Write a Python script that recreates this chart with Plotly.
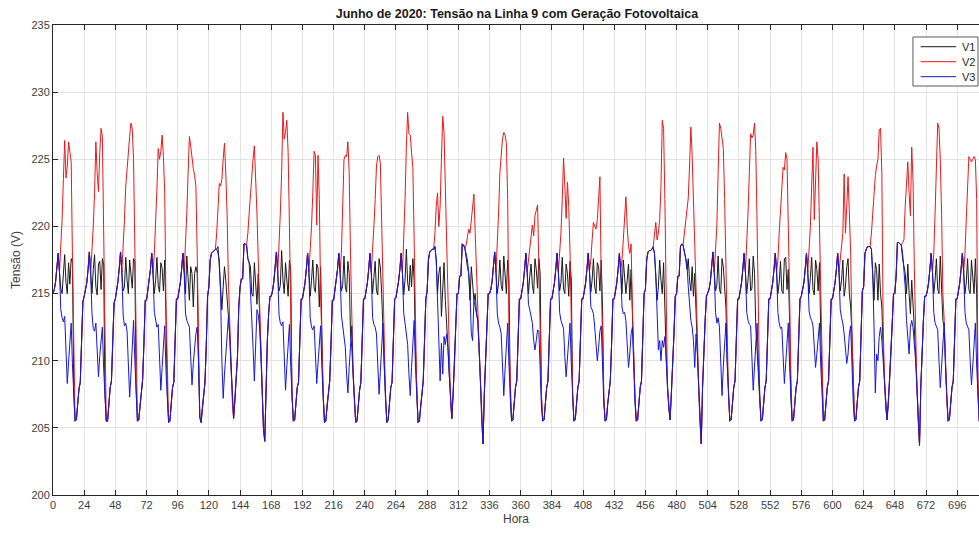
import plotly.graph_objects as go

# Tensão de fase (V) lida hora a hora, um dia (24 h) por linha - junho de 2020
V3_DIAS = [
    [215.0, 215.3, 215.9, 216.8, 218.0, 216.6, 213.8, 213.2, 212.9, 213.3, 210.6, 208.3, 209.9, 211.6, 212.8, 209.6, 206.9, 205.5, 205.6, 206.8, 207.9, 208.4, 211.2, 214.4],
    [214.8, 215.2, 215.8, 216.8, 218.1, 216.5, 213.5, 212.4, 212.2, 212.8, 210.5, 208.8, 210.4, 211.8, 212.5, 209.4, 206.8, 205.5, 205.5, 206.7, 208.0, 208.5, 211.0, 214.3],
    [214.6, 215.2, 215.9, 216.9, 218.1, 216.6, 213.4, 212.6, 212.8, 212.2, 209.5, 207.3, 209.0, 211.5, 213.0, 210.0, 207.0, 205.5, 205.6, 206.8, 207.8, 208.6, 211.3, 214.5],
    [214.5, 215.2, 215.8, 216.8, 218.0, 216.5, 213.6, 212.9, 212.5, 212.7, 210.0, 207.8, 209.5, 211.4, 212.6, 209.2, 206.6, 205.4, 205.5, 206.8, 208.0, 208.4, 211.4, 214.6],
    [214.6, 215.2, 215.8, 216.8, 218.0, 216.6, 213.5, 213.0, 212.8, 212.5, 210.3, 208.2, 209.8, 211.0, 212.0, 212.5, 210.0, 205.8, 205.4, 206.6, 207.8, 208.4, 211.2, 214.8],
    [215.5, 217.5, 218.0, 218.1, 218.2, 218.3, 218.3, 218.0, 217.5, 215.0, 210.0, 207.2, 209.0, 210.5, 211.5, 213.2, 212.0, 209.5, 207.0, 205.7, 207.0, 208.5, 210.3, 214.0],
    [215.5, 216.1, 216.1, 218.7, 218.7, 218.6, 217.6, 217.3, 215.5, 213.5, 211.0, 208.5, 211.0, 213.8, 213.4, 212.5, 210.5, 208.0, 205.0, 204.0, 208.5, 211.5, 213.5, 214.8],
    [214.8, 215.2, 215.9, 216.8, 218.1, 216.5, 213.4, 212.8, 212.6, 212.9, 210.0, 207.8, 209.6, 211.5, 212.7, 209.5, 206.8, 205.5, 205.6, 206.8, 208.0, 208.4, 211.3, 214.6],
    [214.6, 215.2, 215.8, 216.8, 218.0, 216.6, 213.2, 212.5, 212.3, 212.6, 210.3, 208.3, 209.8, 211.6, 212.6, 209.4, 206.8, 205.4, 205.5, 206.7, 207.9, 208.5, 211.2, 214.5],
    [214.5, 215.2, 215.8, 216.8, 218.0, 216.6, 213.4, 212.5, 211.8, 211.0, 209.0, 207.6, 209.5, 211.2, 212.6, 209.2, 206.6, 205.4, 205.5, 206.7, 207.8, 208.4, 211.3, 214.6],
    [214.6, 215.2, 215.8, 216.8, 218.0, 216.6, 213.2, 212.7, 212.5, 212.0, 209.3, 207.5, 209.2, 211.5, 212.8, 209.5, 206.8, 205.4, 205.6, 206.8, 208.0, 208.4, 211.3, 214.6],
    [214.7, 215.2, 215.9, 216.8, 218.0, 216.5, 213.5, 212.8, 212.0, 211.2, 209.0, 207.4, 209.5, 211.8, 213.0, 209.6, 206.8, 205.4, 205.5, 206.7, 207.9, 208.5, 211.5, 214.6],
    [215.2, 217.5, 218.1, 218.2, 218.3, 218.3, 218.5, 217.5, 214.5, 211.0, 208.5, 211.3, 209.0, 211.8, 211.2, 212.0, 211.0, 209.0, 207.0, 205.7, 207.5, 209.5, 212.5, 215.0],
    [215.0, 216.3, 216.3, 218.7, 218.6, 218.4, 218.0, 217.5, 216.5, 215.0, 212.0, 211.5, 214.5, 214.0, 213.5, 213.0, 211.0, 208.5, 205.5, 203.8, 207.5, 210.5, 213.0, 215.0],
    [215.0, 215.3, 215.9, 216.9, 218.1, 216.6, 213.5, 212.8, 212.5, 212.0, 209.5, 207.4, 209.4, 211.5, 212.8, 209.6, 206.8, 205.5, 205.6, 206.8, 208.0, 208.5, 211.3, 214.6],
    [214.6, 215.2, 215.8, 216.8, 218.0, 216.6, 214.2, 213.8, 213.2, 212.8, 211.5, 210.8, 211.5, 212.3, 212.2, 209.0, 206.5, 205.5, 205.6, 206.8, 208.0, 208.5, 211.3, 214.6],
    [214.6, 215.2, 215.8, 216.8, 218.0, 216.6, 213.6, 213.0, 212.7, 212.4, 210.3, 208.8, 210.2, 211.8, 212.8, 209.6, 206.8, 205.5, 205.6, 206.8, 208.0, 208.5, 211.3, 214.6],
    [214.6, 215.2, 215.8, 216.8, 218.0, 216.6, 214.0, 213.8, 213.5, 212.5, 210.8, 210.0, 211.0, 212.2, 212.6, 209.5, 206.8, 205.5, 205.6, 206.8, 208.0, 208.5, 211.3, 214.6],
    [214.6, 215.2, 215.8, 216.8, 218.0, 216.6, 214.0, 213.5, 213.6, 213.0, 211.0, 209.5, 210.5, 212.0, 212.5, 209.5, 206.8, 205.5, 205.6, 206.8, 208.0, 208.5, 211.3, 215.0],
    [215.3, 217.5, 218.1, 218.2, 218.2, 218.3, 218.5, 218.0, 216.5, 213.5, 210.8, 211.5, 210.0, 211.5, 211.0, 211.8, 210.0, 208.0, 206.5, 205.6, 207.5, 209.5, 212.0, 214.8],
    [215.0, 216.3, 216.3, 218.5, 218.7, 218.6, 218.2, 217.6, 217.2, 215.5, 214.0, 213.0, 212.5, 211.5, 209.5, 212.0, 210.5, 208.0, 205.5, 203.8, 208.0, 211.0, 213.0, 214.8],
    [215.0, 215.3, 215.9, 216.9, 218.1, 216.6, 213.6, 212.8, 213.2, 212.5, 209.5, 207.4, 209.6, 211.6, 212.8, 209.6, 206.8, 205.5, 205.6, 206.8, 208.0, 208.5, 211.3, 214.6],
    [214.6, 215.2, 215.8, 216.8, 218.0, 216.6, 213.6, 213.0, 212.7, 212.6, 210.0, 207.8, 209.6, 211.6, 212.8, 209.6, 206.8, 205.5, 205.6, 206.8, 208.0, 208.5, 211.3, 214.6],
    [214.6, 215.2, 215.8, 216.8, 218.0, 216.6, 213.6, 212.8, 212.4, 212.5, 210.3, 208.3, 209.8, 211.5, 212.8, 209.6, 206.8, 205.5, 205.6, 206.8, 208.0, 208.5, 211.3, 214.6],
    [214.8, 215.2, 215.8, 216.8, 218.0, 216.6, 213.7, 213.2, 213.0, 212.6, 211.0, 209.5, 210.5, 212.0, 212.8, 209.6, 206.8, 205.5, 205.6, 206.8, 208.0, 208.5, 211.3, 214.6],
    [214.6, 215.2, 215.8, 216.8, 218.0, 216.6, 213.8, 213.2, 212.8, 212.0, 210.5, 209.8, 210.5, 212.0, 212.6, 209.6, 206.8, 205.5, 205.6, 206.8, 208.0, 208.5, 211.3, 215.2],
    [215.5, 218.0, 218.3, 218.5, 218.5, 218.5, 218.3, 216.5, 212.5, 207.6, 210.5, 210.0, 211.8, 212.5, 211.5, 210.0, 208.0, 206.5, 205.6, 206.8, 208.5, 210.5, 212.8, 215.0],
    [215.0, 216.3, 218.8, 218.8, 218.7, 218.6, 218.0, 217.0, 215.5, 213.0, 212.0, 210.5, 212.5, 213.0, 212.5, 211.5, 210.0, 208.0, 205.5, 203.7, 208.0, 211.0, 213.0, 214.8],
    [214.8, 215.2, 215.8, 216.8, 218.0, 216.6, 213.6, 212.8, 212.5, 212.3, 210.0, 208.0, 209.6, 211.6, 212.8, 209.6, 206.8, 205.5, 205.6, 206.8, 208.0, 208.5, 211.3, 214.6],
    [214.6, 215.2, 215.8, 216.8, 218.0, 216.6, 213.6, 212.8, 212.5, 212.3, 210.0, 208.2, 209.6, 211.6, 212.8, 209.6, 206.8, 205.5, 205.6, 206.8, 208.0, 208.5, 211.3, 214.6],
]

# Das 5h às 16h as fases se separam; fora dessa janela V1 e V2 seguem V3
V2_DIURNO = [
    [216.6, 218.5, 220.5, 223.5, 226.4, 223.6, 224.5, 226.3, 225.3, 224.8, 217.5, 209.5],
    [216.5, 218.0, 220.0, 222.5, 226.3, 224.0, 222.6, 225.5, 227.3, 226.7, 218.0, 210.0],
    [216.6, 218.2, 220.5, 223.0, 224.5, 226.0, 226.7, 227.7, 227.3, 225.0, 218.0, 210.0],
    [216.5, 218.0, 220.0, 222.8, 225.8, 225.0, 225.6, 226.8, 225.2, 222.5, 214.0, 208.5],
    [216.6, 218.5, 221.0, 224.0, 226.7, 226.0, 225.0, 224.3, 223.8, 223.0, 218.0, 213.0],
    [218.3, 219.5, 222.0, 223.2, 223.0, 223.5, 225.0, 226.2, 224.0, 221.0, 216.0, 213.0],
    [218.6, 219.5, 221.0, 222.5, 224.0, 225.0, 226.0, 224.0, 221.0, 217.5, 214.0, 211.0],
    [216.5, 218.5, 221.0, 224.0, 228.5, 226.5, 227.0, 227.9, 225.5, 220.0, 212.0, 207.5],
    [216.6, 218.0, 220.0, 222.5, 225.6, 225.3, 220.1, 225.3, 222.0, 215.0, 210.0, 207.5],
    [216.6, 218.0, 221.0, 225.0, 225.3, 225.2, 226.3, 224.0, 218.0, 212.0, 209.0, 207.0],
    [216.6, 218.0, 220.0, 222.0, 224.5, 225.2, 225.3, 224.7, 220.0, 214.0, 209.5, 207.2],
    [216.5, 219.0, 222.0, 226.0, 228.5, 226.9, 226.8, 225.5, 224.4, 219.0, 212.0, 207.5],
    [218.3, 219.5, 221.5, 222.5, 220.0, 221.5, 225.0, 228.2, 227.0, 223.0, 217.0, 213.0],
    [218.4, 218.6, 219.3, 219.8, 219.5, 220.5, 221.0, 222.4, 219.5, 216.0, 214.0, 211.0],
    [216.6, 218.5, 221.0, 224.0, 225.5, 226.5, 227.0, 226.8, 226.2, 222.0, 212.0, 207.5],
    [216.6, 217.5, 218.5, 219.5, 220.1, 219.3, 220.8, 221.2, 221.6, 217.0, 211.0, 207.5],
    [216.6, 218.0, 219.5, 222.0, 225.1, 223.0, 220.6, 223.3, 221.5, 218.0, 211.0, 207.5],
    [216.6, 217.5, 219.0, 220.3, 220.0, 219.8, 220.5, 222.0, 223.7, 216.0, 210.0, 207.2],
    [216.6, 217.5, 219.0, 221.0, 222.2, 220.0, 218.5, 218.0, 218.7, 214.0, 209.5, 207.3],
    [218.3, 218.5, 219.5, 220.3, 219.0, 219.5, 220.5, 223.0, 227.9, 227.3, 222.0, 213.0],
    [218.6, 219.5, 220.0, 221.0, 222.1, 224.5, 227.4, 225.3, 222.1, 220.0, 216.0, 212.0],
    [216.6, 218.0, 220.0, 224.0, 227.7, 227.3, 226.5, 225.8, 222.0, 216.0, 210.0, 207.3],
    [216.6, 218.5, 221.0, 224.0, 226.9, 226.6, 226.8, 227.7, 225.6, 220.0, 212.0, 207.5],
    [216.6, 217.5, 219.5, 221.5, 223.5, 224.4, 224.2, 225.5, 225.0, 221.0, 215.0, 209.0],
    [216.6, 218.0, 220.0, 223.0, 225.9, 220.5, 223.0, 226.3, 225.0, 220.0, 213.0, 208.0],
    [216.6, 217.5, 218.5, 219.5, 223.9, 219.5, 221.5, 223.7, 221.0, 218.0, 212.0, 207.5],
    [218.5, 219.5, 221.0, 222.2, 223.8, 224.5, 225.0, 227.2, 227.3, 224.0, 213.0, 208.5],
    [218.6, 218.8, 219.0, 221.5, 223.0, 224.8, 222.5, 220.8, 225.9, 223.5, 217.0, 211.5],
    [216.6, 218.0, 221.0, 224.0, 227.7, 227.3, 225.0, 221.0, 215.0, 213.0, 209.0, 207.3],
    [216.6, 218.0, 220.5, 223.0, 225.2, 225.0, 224.8, 225.0, 225.2, 225.0, 222.0, 209.0],
]

V1_DIURNO = [
    [216.6, 215.4, 215.0, 216.6, 217.9, 215.8, 215.0, 217.3, 215.7, 217.6, 217.3, 207.5],
    [216.5, 215.0, 216.8, 217.9, 215.5, 214.9, 217.2, 217.4, 215.3, 217.6, 217.2, 207.5],
    [216.6, 215.2, 215.5, 217.7, 216.0, 215.0, 217.5, 216.3, 215.4, 217.6, 217.4, 207.8],
    [216.5, 215.0, 216.0, 217.7, 215.6, 215.1, 217.3, 216.9, 215.2, 217.5, 213.0, 207.5],
    [216.6, 215.0, 217.8, 216.0, 214.5, 217.0, 216.5, 214.0, 216.5, 217.0, 216.5, 210.0],
    [218.3, 218.3, 218.5, 217.0, 215.5, 213.8, 215.5, 217.0, 216.0, 214.5, 213.5, 212.0],
    [218.6, 217.6, 217.3, 217.0, 215.0, 214.8, 217.3, 216.0, 214.2, 216.5, 213.5, 210.8],
    [216.5, 215.2, 215.6, 218.2, 216.0, 215.0, 217.3, 215.8, 214.8, 217.5, 216.8, 207.3],
    [216.6, 214.8, 216.0, 217.5, 215.4, 215.1, 217.2, 216.9, 214.0, 217.0, 212.0, 207.2],
    [216.6, 215.2, 215.6, 217.8, 215.5, 215.1, 217.4, 216.5, 212.0, 211.0, 209.0, 206.8],
    [216.6, 215.0, 216.2, 217.4, 215.2, 214.9, 217.6, 217.0, 215.0, 212.0, 209.5, 207.0],
    [216.5, 214.9, 216.0, 218.3, 215.8, 215.2, 217.1, 215.5, 217.6, 216.0, 211.0, 207.2],
    [218.3, 218.5, 217.5, 215.0, 216.5, 217.0, 213.3, 215.5, 217.3, 214.5, 213.0, 211.0],
    [218.4, 217.5, 217.0, 216.5, 214.5, 217.0, 216.0, 214.5, 215.0, 213.5, 213.0, 211.0],
    [216.6, 215.0, 215.8, 217.5, 215.6, 215.2, 217.8, 216.0, 215.0, 217.5, 216.0, 207.3],
    [216.6, 215.0, 216.3, 217.2, 215.6, 215.0, 217.6, 216.8, 215.4, 217.6, 216.5, 207.2],
    [216.6, 215.2, 215.8, 217.7, 215.3, 215.0, 217.2, 216.5, 214.8, 217.4, 216.0, 207.3],
    [216.6, 215.1, 216.0, 217.6, 215.5, 215.0, 217.3, 217.0, 215.2, 217.5, 214.0, 207.2],
    [216.6, 215.0, 217.5, 216.0, 215.0, 216.0, 217.2, 214.5, 216.8, 213.5, 209.5, 207.2],
    [218.3, 218.4, 218.0, 216.5, 214.5, 215.5, 217.5, 216.0, 215.0, 217.3, 213.0, 210.5],
    [218.6, 218.2, 217.6, 216.8, 217.6, 216.0, 215.2, 217.0, 214.8, 216.5, 213.0, 211.5],
    [216.6, 215.2, 215.6, 217.8, 215.3, 215.0, 217.6, 217.0, 215.4, 214.0, 210.0, 207.2],
    [216.6, 215.0, 216.0, 217.6, 215.2, 215.4, 217.8, 216.5, 212.5, 211.0, 209.0, 207.0],
    [216.6, 215.0, 215.8, 217.4, 215.2, 215.0, 217.6, 217.7, 215.3, 216.8, 213.0, 207.2],
    [216.6, 215.0, 216.2, 217.7, 215.3, 214.9, 217.5, 216.8, 215.2, 217.3, 212.0, 207.8],
    [216.6, 215.2, 216.0, 217.5, 214.8, 215.5, 217.0, 217.6, 215.0, 214.0, 212.0, 207.5],
    [218.5, 218.3, 216.0, 214.5, 217.3, 216.8, 214.5, 217.2, 215.0, 214.0, 211.0, 208.2],
    [218.6, 217.6, 217.0, 216.5, 215.0, 217.2, 215.0, 213.5, 216.0, 214.5, 212.5, 210.5],
    [216.6, 215.0, 216.0, 217.6, 215.3, 215.0, 217.8, 215.5, 213.0, 212.5, 209.0, 207.2],
    [216.6, 215.0, 215.8, 217.6, 215.3, 215.0, 217.5, 216.5, 215.0, 217.6, 215.0, 207.5],
]

HORAS_TICKS = list(range(0, 697, 24))
TENSAO_TICKS = [200, 205, 210, 215, 220, 225, 230, 235]
NOMES = ["V1", "V2", "V3"]
CORES = ["#1a1a1a", "#e8191c", "#1616d8"]

# monta as séries de 720 horas
v1, v2, v3 = [], [], []
for noite, dia1, dia2 in zip(V3_DIAS, V1_DIURNO, V2_DIURNO):
    v3 += noite
    v1 += noite[:5] + dia1 + noite[17:]
    v2 += noite[:5] + dia2 + noite[17:]
horas = list(range(len(v3)))

fig = go.Figure()
for nome, serie, cor in zip(NOMES, [v1, v2, v3], CORES):
    fig.add_trace(go.Scatter(x=horas, y=serie, mode="lines", name=nome,
                             line=dict(color=cor, width=1), showlegend=False))

# legenda desenhada à mão (caixa compacta como no original)
fig.add_shape(type="rect", xref="paper", yref="paper",
              x0=0.9287, x1=0.9989, y0=0.8702, y1=0.9745,
              line=dict(color="#595959", width=1), fillcolor="white", layer="above")
for i, (nome, cor) in enumerate(zip(NOMES, CORES)):
    yy = 0.9538 - i * 0.0319
    fig.add_shape(type="line", xref="paper", yref="paper",
                  x0=0.9370, x1=0.9752, y0=yy, y1=yy,
                  line=dict(color=cor, width=1), layer="above")
    fig.add_annotation(text=nome, xref="paper", yref="paper", x=0.9795, y=yy,
                       xanchor="left", yanchor="middle", showarrow=False,
                       font=dict(size=11, color="#262626"))

eixo = dict(
    showline=True, linecolor="#262626", linewidth=1,
    ticks="inside", ticklen=5, tickcolor="#262626",
    showgrid=True, gridcolor="#e3e3e3", gridwidth=1,
    zeroline=False,
    tickfont=dict(size=11, color="#404040"),
)

fig.update_layout(
    width=979, height=535,
    margin=dict(l=53, r=0, t=25, b=40),
    paper_bgcolor="white",
    plot_bgcolor="white",
    font=dict(family="Arial, Liberation Sans, sans-serif", color="#262626"),
    title=dict(
        text="<b>Junho de 2020: Tensão na Linha 9 com Geração Fotovoltaica</b>",
        x=0.528, xanchor="center", y=0.975, yanchor="middle",
        font=dict(size=12.5, color="#1a1a1a"),
    ),
    xaxis=dict(eixo, range=[0, 712.8], tickvals=HORAS_TICKS, mirror="ticks",
               title=dict(text="Hora", font=dict(size=12, color="#404040"), standoff=4)),
    yaxis=dict(eixo, range=[200, 235], tickvals=TENSAO_TICKS,
               title=dict(text="Tensão (V)", font=dict(size=12, color="#404040"), standoff=8)),
)

# sem a margem padrão do <body>, a figura ocupa exatamente a janela
fig.write_html("out.html", config={"displayModeBar": False},
               post_script="document.body.style.margin='0';document.body.style.overflow='hidden';")
